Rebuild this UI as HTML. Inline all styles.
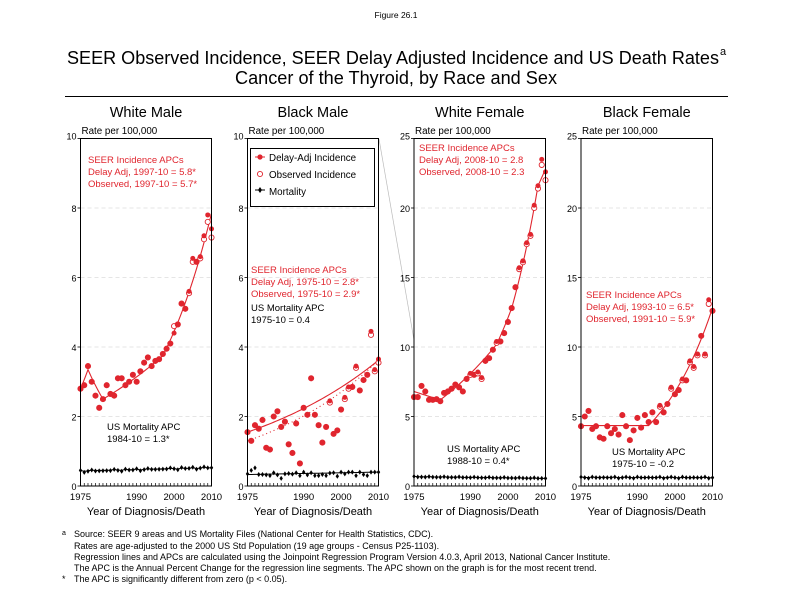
<!DOCTYPE html>
<html><head><meta charset="utf-8"><style>
html,body{margin:0;padding:0;background:#fff;}
svg{display:block;font-family:"Liberation Sans",Arial,sans-serif;}
</style></head><body>
<svg id="s" width="792" height="612" viewBox="0 0 792 612" xmlns="http://www.w3.org/2000/svg">
<text x="396" y="18" font-size="8.5" text-anchor="middle">Figure 26.1</text>
<text x="67" y="64" font-size="18" textLength="652" lengthAdjust="spacingAndGlyphs">SEER Observed Incidence, SEER Delay Adjusted Incidence and US Death Rates</text>
<text x="720" y="55" font-size="11">a</text>
<text x="396" y="84" font-size="18" text-anchor="middle" textLength="322" lengthAdjust="spacingAndGlyphs">Cancer of the Thyroid, by Race and Sex</text>
<line x1="65" y1="96.5" x2="728" y2="96.5" stroke="#000" stroke-width="1"/>
<line x1="379" y1="139" x2="414" y2="340" stroke="#bbb" stroke-width="0.7"/>
<g font-size="9">
<text x="62" y="535" font-size="7">a</text>
<text x="74" y="537">Source: SEER 9 areas and US Mortality Files (National Center for Health Statistics, CDC).</text>
<text x="74" y="549">Rates are age-adjusted to the 2000 US Std Population (19 age groups - Census P25-1103).</text>
<text x="74" y="560">Regression lines and APCs are calculated using the Joinpoint Regression Program Version 4.0.3, April 2013, National Cancer Institute.</text>
<text x="74" y="571">The APC is the Annual Percent Change for the regression line segments. The APC shown on the graph is for the most recent trend.</text>
<text x="62" y="582">*</text>
<text x="74" y="582">The APC is significantly different from zero (p &lt; 0.05).</text>
</g>
</svg>
<script>
var S=document.getElementById('s'),NS='http://www.w3.org/2000/svg';
function el(t,a,p){var e=document.createElementNS(NS,t);for(var k in a)e.setAttribute(k,a[k]);(p||S).appendChild(e);return e;}
function tx(x,y,s,a){var e=el('text',Object.assign({x:x,y:y},a||{}));e.textContent=s;return e;}
var RED='#e0252e';
var panels=[
{L:80.5,R:211.5,max:10,step:2,title:'White Male',
d:[2.8,2.9,3.45,3.0,2.6,2.25,2.5,2.9,2.65,2.6,3.1,3.1,2.9,3.0,3.2,3.0,3.3,3.55,3.7,3.45,3.6,3.65,3.8,3.95,4.1,4.4,4.65,5.25,5.1,5.6,6.55,6.45,6.6,7.2,7.8,7.4],
o:[2.8,2.9,3.45,3.0,2.6,2.25,2.5,2.9,2.65,2.6,3.1,3.1,2.9,3.0,3.2,3.0,3.3,3.55,3.7,3.45,3.6,3.65,3.8,3.95,4.1,4.6,4.65,5.25,5.1,5.55,6.45,6.45,6.55,7.1,7.6,7.15],
m:function(i){return 0.42+0.003*i+(i%3==0?0.03:0)-(i%5==1?0.03:0);},
trend:[[1975,2.8],[1977,3.35],[1981,2.5],[1997,3.75],[2010,7.85]],
ann:[[88,163,'SEER Incidence APCs',RED],[88,175,'Delay Adj, 1997-10 = 5.8*',RED],[88,187,'Observed, 1997-10 = 5.7*',RED],[107,430,'US Mortality APC','#000'],[107,442,'1984-10 = 1.3*','#000']]},
{L:247.5,R:378.5,max:10,step:2,title:'Black Male',
d:[1.55,1.3,1.75,1.65,1.9,1.1,1.05,2.0,2.15,1.7,1.85,1.2,0.95,1.8,0.65,2.25,2.05,3.1,2.05,1.75,1.25,1.7,2.45,1.5,1.6,2.2,2.55,2.85,2.85,3.45,2.75,3.05,3.2,4.45,3.35,3.65],
o:[1.55,1.3,1.75,1.65,1.9,1.1,1.05,2.0,2.15,1.7,1.85,1.2,0.95,1.8,0.65,2.25,2.05,3.1,2.05,1.75,1.25,1.7,2.4,1.5,1.6,2.2,2.5,2.8,2.85,3.4,2.75,3.05,3.2,4.35,3.3,3.55],
m:function(i){return [0.35,0.45,0.52,0.33,0.33,0.32,0.3,0.38,0.32,0.22,0.35,0.36,0.34,0.38,0.3,0.4,0.32,0.38,0.3,0.3,0.33,0.3,0.37,0.38,0.28,0.4,0.35,0.4,0.4,0.3,0.4,0.33,0.3,0.4,0.4,0.4][i];},
curve:[1.55,3.62],curve2:[1.3,3.62],mline:[0.33,0.4],
ann:[[251,273,'SEER Incidence APCs',RED],[251,285,'Delay Adj, 1975-10 = 2.8*',RED],[251,297,'Observed, 1975-10 = 2.9*',RED],[251,311,'US Mortality APC','#000'],[251,323,'1975-10 = 0.4','#000']]},
{L:414,R:545.5,max:25,step:5,title:'White Female',
d:[6.4,6.4,7.2,6.8,6.2,6.2,6.25,6.1,6.7,6.8,7.0,7.3,7.1,6.8,7.7,8.1,8.0,8.2,7.8,9.0,9.2,9.8,10.4,10.4,11.0,11.8,12.8,14.3,15.7,16.2,17.5,18.1,20.2,21.6,23.5,22.6],
o:[6.4,6.4,7.2,6.8,6.2,6.2,6.25,6.1,6.7,6.8,7.0,7.3,7.1,6.8,7.7,8.0,8.0,8.1,7.7,9.0,9.2,9.8,10.3,10.4,11.0,11.8,12.8,14.3,15.6,16.1,17.4,18.0,20.0,21.4,23.1,22.0],
m:function(i){return 0.65-0.003*i+(i%4==0?0.04:0);},
trend:[[1975,6.8],[1982,6.2],[1997,10.2],[2001,12.8],[2008,21.6],[2010,22.8]],
ann:[[419,151,'SEER Incidence APCs',RED],[419,163,'Delay Adj, 2008-10 = 2.8',RED],[419,175,'Observed, 2008-10 = 2.3',RED],[447,452,'US Mortality APC','#000'],[447,464,'1988-10 = 0.4*','#000']]},
{L:581,R:712.5,max:25,step:5,title:'Black Female',
d:[4.3,5.0,5.4,4.1,4.3,3.5,3.4,4.3,3.8,4.1,3.7,5.1,4.3,3.3,4.0,4.9,4.2,5.1,4.6,5.3,4.6,5.8,5.3,5.9,7.1,6.6,6.9,7.7,7.6,9.0,8.6,9.5,10.8,9.5,13.4,12.6],
o:[4.3,5.0,5.4,4.1,4.3,3.5,3.4,4.3,3.8,4.1,3.7,5.1,4.3,3.3,4.0,4.9,4.2,5.1,4.6,5.3,4.6,5.7,5.3,5.9,7.0,6.6,6.9,7.6,7.6,8.9,8.5,9.4,10.8,9.4,13.1,12.6],
m:function(i){return 0.6+(i%3==0?0.05:0)-(i%4==2?0.04:0);},
trend:[[1975,4.35],[1993,4.35],[2010,12.8]],
ann:[[586,298,'SEER Incidence APCs',RED],[586,310,'Delay Adj, 1993-10 = 6.5*',RED],[586,322,'Observed, 1991-10 = 5.9*',RED],[612,455,'US Mortality APC','#000'],[612,467,'1975-10 = -0.2','#000']]}
];
var T=138.5,B=486;
panels.forEach(function(p,pi){
 var W=p.R-p.L;
 function X(yr){return p.L+(yr-1975)/35*W;}
 function Y(v){return B-v/p.max*(B-T);}
 tx((p.L+p.R)/2,117,p.title,{'font-size':14.5,'text-anchor':'middle'});
 tx(p.L+1,134,'Rate per 100,000',{'font-size':9.8});
 for(var v=0;v<=p.max;v+=p.step){
  var y=Y(v);
  if(v>0&&v<p.max) el('line',{x1:p.L,x2:p.R,y1:y,y2:y,stroke:'#ddd','stroke-width':0.7,'stroke-dasharray':'4,3'});
  el('line',{x1:p.L-3,x2:p.L,y1:y,y2:y,stroke:'#000','stroke-width':0.8});
  tx(p.L-4,y+(v==p.max?1:4),String(v),{'font-size':9,'text-anchor':'end'});
 }
 for(var yr=1975;yr<=2010;yr++){el('line',{x1:X(yr),x2:X(yr),y1:B,y2:B-3,stroke:'#000','stroke-width':0.7});}
 [1975,1990,2000,2010].forEach(function(yr){tx(X(yr),500,String(yr),{'font-size':9.5,'text-anchor':'middle'});});
 tx((p.L+p.R)/2,515,'Year of Diagnosis/Death',{'font-size':11,'text-anchor':'middle'});
 if(p.trend){
  var pts=[];
  for(var k=0;k<p.trend.length-1;k++){var a=p.trend[k],b=p.trend[k+1];
   for(var t=a[0];t<=b[0];t+=0.25){var f=(t-a[0])/(b[0]-a[0]);pts.push(X(t)+','+Y(a[1]*Math.pow(b[1]/a[1],f)));}}
  el('polyline',{points:pts.join(' '),fill:'none',stroke:RED,'stroke-width':1.1});
 }
 if(p.curve){
  [[p.curve,''],[p.curve2,'1,3']].forEach(function(c){var pts=[];for(var t=1975;t<=2010;t+=0.5){pts.push(X(t)+','+Y(c[0][0]*Math.pow(c[0][1]/c[0][0],(t-1975)/35)));}
  var a={points:pts.join(' '),fill:'none',stroke:RED,'stroke-width':1.1};if(c[1])a['stroke-dasharray']=c[1];el('polyline',a);});
 }
 var mp=[];for(var i=0;i<36;i++){var mv=p.mline?p.mline[0]+(p.mline[1]-p.mline[0])*i/35:p.m(i)*0.5+0.5*(p.m(0)+(p.m(35)-p.m(0))*i/35);mp.push(X(1975+i)+','+Y(mv));}
 el('polyline',{points:mp.join(' '),fill:'none',stroke:'#000','stroke-width':1});
 for(var i=0;i<36;i++){
  var x=X(1975+i),ym=Y(p.m(i));
  el('path',{d:'M'+x+','+(ym-2.5)+'L'+(x+1.7)+','+ym+'L'+x+','+(ym+2.5)+'L'+(x-1.7)+','+ym+'Z',fill:'#000'});
  el('circle',{cx:x,cy:Y(p.o[i]),r:2.6,fill:'#fff',stroke:RED,'stroke-width':0.9});
  el('circle',{cx:x,cy:Y(p.d[i]),r:2.5,fill:RED});
 }
 el('rect',{x:p.L,y:T,width:W,height:B-T,fill:'none',stroke:'#000','stroke-width':1});
 p.ann.forEach(function(a){tx(a[0],a[1],a[2],{'font-size':9.5,fill:a[3]});});
 if(pi==1){
  el('rect',{x:250.5,y:148.5,width:124,height:58,fill:'#fff',stroke:'#000','stroke-width':1});
  el('circle',{cx:260,cy:157,r:2.6,fill:RED});el('line',{x1:255,x2:265,y1:157,y2:157,stroke:RED});
  tx(269,161,'Delay-Adj Incidence',{'font-size':9.8});
  el('circle',{cx:260,cy:174,r:2.6,fill:'#fff',stroke:RED,'stroke-width':0.9});
  tx(269,178,'Observed Incidence',{'font-size':9.8});
  el('path',{d:'M260,187L262,190L260,193L258,190Z',fill:'#000'});el('line',{x1:255,x2:265,y1:190,y2:190,stroke:'#000'});
  tx(269,195,'Mortality',{'font-size':9.8});
 }
});
</script>
</body></html>
